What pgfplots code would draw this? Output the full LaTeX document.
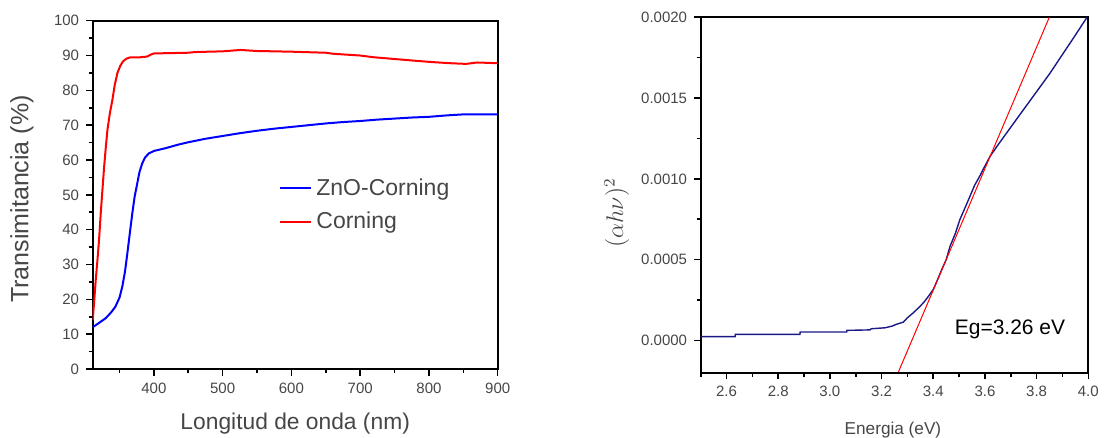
\documentclass[border=0pt]{standalone}
\usepackage{fontspec}
\setmainfont{Liberation Sans}
\usepackage{pgfplots}
\pgfplotsset{compat=1.18}
\definecolor{tickgray}{RGB}{70,70,70}
\definecolor{navyblue}{RGB}{25,25,135}
\pgfplotsset{
  common/.style={
    scale only axis,
    anchor=south west,
    tick align=outside,
    xtick pos=bottom, ytick pos=left,
    axis line style={line width=1pt},
    major tick length=3.3pt, minor tick length=2pt,
    every tick/.style={black, line width=0.8pt},
    ticklabel style={font=\fontsize{7.5}{9}\selectfont, text=tickgray},
    /pgf/number format/assume math mode=true,
    label style={text=tickgray},
  }
}
\begin{document}
\begin{tikzpicture}[x=1pt,y=1pt]
\useasboundingbox (0,0) rectangle (553,219);
\begin{axis}[common,
  at={(46.35pt,34.5pt)}, width=202.5pt, height=174.15pt,
  xmin=311, xmax=900, ymin=0, ymax=100,
  xtick={400,500,...,900}, ytick={0,10,...,100},
  minor xtick={350,450,...,850}, minor ytick={5,15,...,95},
  xlabel={Longitud de onda (nm)}, ylabel={Transimitancia (\%)},
  xlabel style={at={(axis description cs:0.5,-0.158)}, anchor=center, font=\fontsize{11.4}{13}\selectfont},
  ylabel style={at={(axis description cs:-0.1746,0.488)}, anchor=center, font=\fontsize{12.5}{14}\selectfont},
  legend style={at={(axis description cs:0.46,0.56)}, anchor=north west, draw=none, fill=none,
    font=\fontsize{11.5}{13}\selectfont, text=tickgray, row sep=3pt, inner sep=0pt},
  legend cell align=left,
  legend image code/.code={\draw[#1] (0pt,0pt) -- (15.5pt,0pt);},
]
\addplot[blue, line width=1pt] coordinates {
(311,12.0)(320,13.2)(330,14.6)(338,16.3)(344,17.9)(350,20.5)(354,23.6)(358,28)(361.4,33.2)(365,39)(368.6,44.7)(372,49.5)(375.8,53.3)(379,56.5)(383,59)(387,60.7)(392.7,61.9)(400,62.6)(417,63.4)(435,64.4)(450,65.1)(475,66.1)(500,66.9)(525,67.7)(550,68.4)(575,69)(600,69.5)(625,70)(650,70.5)(675,70.9)(700,71.2)(725,71.6)(750,71.9)(775,72.2)(800,72.4)(825,72.8)(850,73.1)(875,73.1)(900,73.1)
};
\addlegendentry{ZnO-Corning}
\addplot[red, line width=1pt] coordinates {
(311,14)(313,19)(315.4,25.5)(318,31.5)(320.2,37)(322.7,44.7)(325,51)(327.6,58)(330,63.5)(332.4,68.6)(336,73.5)(339.6,77.2)(343,81.5)(347,85)(351,87)(355,88.3)(360,89.1)(366,89.5)(380,89.5)(390,89.7)(395,90.2)(400,90.6)(450,90.8)(460,91)(500,91.2)(526,91.6)(550,91.3)(600,91.1)(650,90.8)(661,90.5)(700,90.0)(720,89.5)(750,89.0)(780,88.5)(806,88.1)(830,87.8)(854,87.6)(870,88.0)(900,87.8)
};
\addlegendentry{Corning}
\end{axis}
\begin{axis}[common,
  at={(350.35pt,32.65pt)}, width=193.8pt, height=177.7pt,
  xmin=2.5, xmax=4.0, ymin=-0.0002, ymax=0.002,
  xtick={2.6,2.8,...,4.01}, ytick={0,0.0005,0.001,0.0015,0.002},
  minor xtick={2.5,2.7,...,3.95}, minor ytick={-0.00025,0.00025,0.00075,0.00125,0.00175},
  scaled y ticks=false, scaled x ticks=false,
  xticklabel style={/pgf/number format/.cd, fixed, fixed zerofill, precision=1},
  yticklabel style={/pgf/number format/.cd, fixed, fixed zerofill, precision=4},
  xlabel={Energia (eV)}, ylabel={$(\alpha h\nu)^2$},
  xlabel style={at={(axis description cs:0.496,-0.161)}, anchor=center, font=\fontsize{8.6}{10}\selectfont},
  ylabel style={at={(axis description cs:-0.2167,0.449)}, anchor=center, font=\fontsize{11.5}{13}\selectfont},
]
\addplot[navyblue, line width=0.7pt] coordinates {
(2.5,0.000023)(2.633,0.000023)(2.634,0.000037)(2.884,0.000037)(2.885,0.000052)(3.065,0.000052)(3.066,0.000062)(3.155,0.000065)(3.16,0.000072)(3.213,0.000078)(3.24,0.000088)(3.258,0.0001)(3.284,0.000113)(3.30,0.00014)(3.323,0.000171)(3.345,0.000205)(3.362,0.000233)(3.38,0.00027)(3.40,0.000315)(3.415,0.00037)(3.433,0.000439)(3.45,0.0005)(3.465,0.000583)(3.485,0.00066)(3.503,0.000748)(3.52,0.00081)(3.542,0.000892)(3.56,0.00096)(3.581,0.00102)(3.60,0.00108)(3.62,0.00114)(3.646,0.0012)(3.70,0.00132)(3.75,0.00143)(3.80,0.00154)(3.85,0.00165)(3.90,0.00177)(3.95,0.00189)(3.995,0.002)
};
\addplot[red, line width=0.5pt] coordinates {(3.265,-0.000196)(3.849,0.002)};
\node[font=\fontsize{10.5}{12}\selectfont, anchor=center] at (axis cs:3.697,0.000068) {Eg=3.26 eV};
\end{axis}
\end{tikzpicture}
\end{document}
